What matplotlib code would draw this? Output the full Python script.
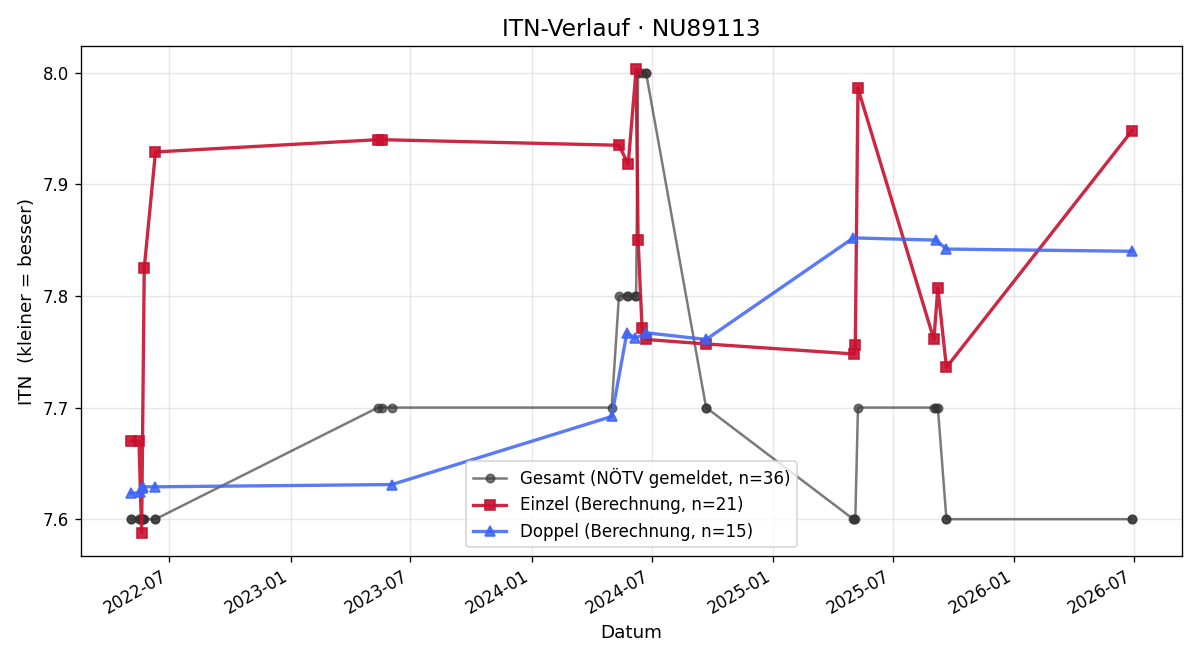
import matplotlib
matplotlib.use("Agg")
import matplotlib.pyplot as plt
import matplotlib.dates as mdates
import pandas as pd

# Gesamt (NÖTV gemeldet)
gesamt_dates = [
    "2022-05-04", "2022-05-04", "2022-05-16", "2022-05-18", "2022-05-20", "2022-05-20",
    "2022-05-22", "2022-05-24", "2022-06-10", "2022-06-10",
    "2023-05-13", "2023-05-19", "2023-06-03",
    "2024-05-01", "2024-05-12", "2024-05-24", "2024-05-26", "2024-06-06", "2024-06-07",
    "2024-06-10", "2024-06-16", "2024-06-22", "2024-06-22", "2024-09-21", "2024-09-21",
    "2025-05-02", "2025-05-03", "2025-05-05", "2025-05-09",
    "2025-09-01", "2025-09-04", "2025-09-07", "2025-09-20", "2025-09-20",
    "2026-06-28", "2026-06-28",
]
gesamt_itn = [
    7.6, 7.6, 7.6, 7.6, 7.6, 7.6, 7.6, 7.6, 7.6, 7.6,
    7.7, 7.7, 7.7,
    7.7, 7.8, 7.8, 7.8, 7.8, 7.8, 8.0, 8.0, 8.0, 8.0, 7.7, 7.7,
    7.6, 7.6, 7.6, 7.7,
    7.7, 7.7, 7.7, 7.6, 7.6,
    7.6, 7.6,
]

# Einzel (Berechnung)
einzel_dates = [
    "2022-05-04", "2022-05-16", "2022-05-20", "2022-05-24", "2022-06-10",
    "2023-05-13", "2023-05-19",
    "2024-05-12", "2024-05-26", "2024-06-07", "2024-06-10", "2024-06-16", "2024-06-22",
    "2024-09-21",
    "2025-05-03", "2025-05-05", "2025-05-09",
    "2025-09-01", "2025-09-07", "2025-09-20",
    "2026-06-28",
]
einzel_itn = [
    7.670, 7.670, 7.588, 7.825, 7.929,
    7.940, 7.940,
    7.935, 7.918, 8.003, 7.850, 7.771, 7.761,
    7.757,
    7.748, 7.756, 7.986,
    7.761, 7.807, 7.736,
    7.948,
]

# Doppel (Berechnung)
doppel_dates = [
    "2022-05-04", "2022-05-18", "2022-05-20", "2022-05-22", "2022-06-10",
    "2023-06-03",
    "2024-05-01", "2024-05-24", "2024-06-06", "2024-06-22",
    "2024-09-21",
    "2025-05-02",
    "2025-09-04", "2025-09-20",
    "2026-06-28",
]
doppel_itn = [
    7.623, 7.624, 7.628, 7.629, 7.629,
    7.631,
    7.692, 7.767, 7.762, 7.767,
    7.761,
    7.852,
    7.850, 7.842,
    7.840,
]

fig, ax = plt.subplots(figsize=(10, 5.5), dpi=120)

ax.plot(pd.to_datetime(gesamt_dates), gesamt_itn, marker="o", color="#333333",
        alpha=0.65, linewidth=1.5, markersize=5,
        label=f"Gesamt (NÖTV gemeldet, n={len(gesamt_itn)})")
ax.plot(pd.to_datetime(einzel_dates), einzel_itn, marker="s", color="#c8102e",
        alpha=0.9, linewidth=2, markersize=6,
        label=f"Einzel (Berechnung, n={len(einzel_itn)})")
ax.plot(pd.to_datetime(doppel_dates), doppel_itn, marker="^", color="#3d63f5",
        alpha=0.85, linewidth=2, markersize=6,
        label=f"Doppel (Berechnung, n={len(doppel_itn)})")

ax.set_title("ITN-Verlauf · NU89113", fontsize=14)
ax.set_xlabel("Datum", fontsize=11)
ax.set_ylabel("ITN  (kleiner = besser)", fontsize=11)
ax.grid(True, alpha=0.3)
ax.xaxis.set_major_locator(mdates.MonthLocator(bymonth=[1, 7]))
ax.xaxis.set_major_formatter(mdates.DateFormatter("%Y-%m"))
ax.legend(loc="lower center")
fig.autofmt_xdate()

fig.subplots_adjust(left=0.0675, right=0.985, top=0.930, bottom=0.158)
fig.savefig("out.png")
